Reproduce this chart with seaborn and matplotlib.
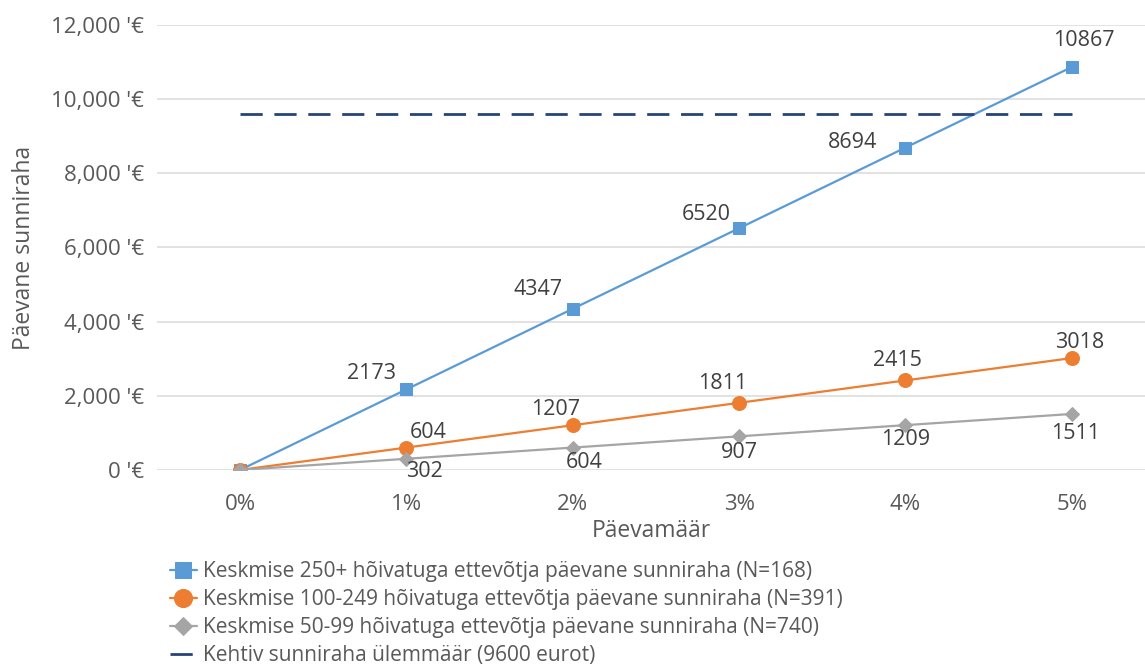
import pandas as pd
import matplotlib.pyplot as plt
import seaborn as sb

rates = ['0%', '1%', '2%', '3%', '4%', '5%']
big = [0, 2173, 4347, 6520, 8694, 10867]
mid = [0, 604, 1207, 1811, 2415, 3018]
small = [0, 302, 604, 907, 1209, 1511]
cap = 9600

names = [
    'Keskmise 250+ hõivatuga ettevõtja päevane sunniraha (N=168)',
    'Keskmise 100-249 hõivatuga ettevõtja päevane sunniraha (N=391)',
    'Keskmise 50-99 hõivatuga ettevõtja päevane sunniraha (N=740)',
]
cap_name = 'Kehtiv sunniraha ülemmäär (9600 eurot)'

sb.set_style('white')
plt.rcParams['font.family'] = ['Open Sans', 'DejaVu Sans']
grey = '#595959'

fig = plt.figure(figsize=(11.45, 6.71), dpi=100)
ax = fig.add_axes([0.137, 0.2996, 0.863, 0.6631])

pos = list(range(len(rates)))
df = pd.DataFrame({'pos': pos, 'big': big, 'mid': mid, 'small': small,
                   'cap': [cap] * len(rates)})

styles = [
    ('big', '#5B9BD5', 's', 9),
    ('mid', '#ED7D31', 'o', 10),
    ('small', '#A5A5A5', 'D', 7),
]
for (col, color, marker, ms), name in zip(styles, names):
    sb.lineplot(data=df, x='pos', y=col, color=color, marker=marker,
                markersize=ms, markeredgecolor=color, linewidth=1.6,
                ax=ax, label=name)

sb.lineplot(data=df, x='pos', y='cap', color='#264478', linewidth=2.0,
            ax=ax, label=cap_name)
ax.lines[-1].set_dashes((8, 4.2))

# data labels, offsets in points from each marker
offsets = {
    'big': [None, (-25, 11.5), (-25, 14), (-24, 10), (-38, 4), (9, 19)],
    'mid': [None, (16, 11), (-12, 11), (-12, 14), (-6, 14), (6, 11.5)],
    'small': [None, (13, -9.5), (8, -11), (0, -11.5), (0, -10), (3, -14)],
}
for col, _, _, _ in styles:
    for i, v in enumerate(df[col]):
        off = offsets[col][i]
        if off is None:
            continue
        ax.annotate(str(v), (i, v), xytext=off, textcoords='offset points',
                    ha='center', va='center', fontsize=15.5, color='#404040')

ax.set_xlim(-0.5, 5.44)
ax.set_ylim(0, 12000)
ax.set_xticks(pos)
ax.set_xticklabels(rates)
ax.set_yticks(range(0, 12001, 2000))
ax.set_yticklabels([f"{v:,} '€" for v in range(0, 12001, 2000)])
ax.tick_params(axis='both', labelsize=16, labelcolor=grey, length=0)
ax.tick_params(axis='x', pad=17)
ax.tick_params(axis='y', pad=9)
ax.grid(axis='y', color='#DDDDDD', linewidth=1.2)
for s in ax.spines.values():
    s.set_visible(False)
ax.set_xlabel('Päevamäär', fontsize=16.5, color=grey, labelpad=3)
ax.set_ylabel('Päevane sunniraha', fontsize=16.5, color=grey, labelpad=11)

h, l = ax.get_legend_handles_labels()
ax.legend(h, l, loc='upper left', bbox_to_anchor=(0.141, 0.176),
          bbox_transform=fig.transFigure, frameon=False, fontsize=15,
          labelcolor=grey, handlelength=1.3, handletextpad=0.3,
          labelspacing=0.34, borderaxespad=0, markerscale=1.3)

fig.savefig('out.png', dpi=100)
